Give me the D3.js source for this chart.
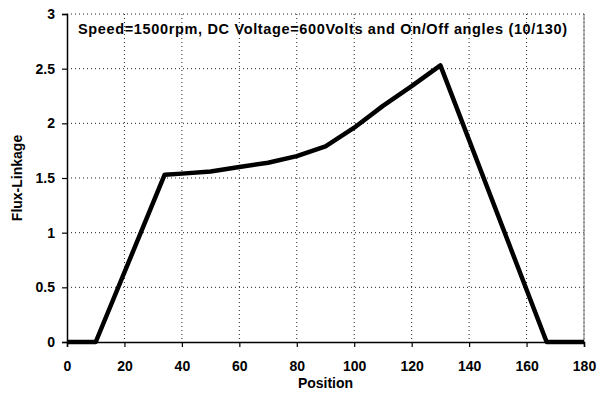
<!DOCTYPE html>
<html>
<head>
<meta charset="utf-8">
<script src="https://cdn.jsdelivr.net/npm/d3@7"></script>
<style>
  body { margin: 0; background: #fff; }
  svg { display: block; font-family: "Liberation Sans", Arial, sans-serif; }
</style>
</head>
<body>
<svg id="chart" width="607" height="399"></svg>
<script>
// values
const positions = [0, 10, 34, 40, 50, 60, 70, 80, 90, 100, 110, 120, 130, 167, 180];
const flux = [0, 0, 1.53, 1.54, 1.56, 1.60, 1.64, 1.70, 1.79, 1.96, 2.16, 2.34, 2.53, 0, 0];

const xTicks = [0, 20, 40, 60, 80, 100, 120, 140, 160, 180];
const yTicks = [0, 0.5, 1, 1.5, 2, 2.5, 3];

const title = "Speed=1500rpm, DC Voltage=600Volts and On/Off angles (10/130)";

let svg = d3.select("#chart");

let dimensions = {
    width: 607,
    height: 399,
    margins: { top: 14, right: 23, bottom: 57, left: 67 },
};
dimensions.boundedWidth = dimensions.width - dimensions.margins.left - dimensions.margins.right;
dimensions.boundedHeight = dimensions.height - dimensions.margins.top - dimensions.margins.bottom;

const boundingBox = svg.append("g")
    .attr("transform", `translate(${dimensions.margins.left},${dimensions.margins.top})`);

const xScale = d3.scaleLinear().domain([0, 180]).range([0, dimensions.boundedWidth]);
const yScale = d3.scaleLinear().domain([0, 3]).range([dimensions.boundedHeight, 0]);

// dotted grid lines
boundingBox.append("g")
    .selectAll("line")
    .data(xTicks.slice(1))
    .join("line")
    .attr("x1", d => xScale(d)).attr("x2", d => xScale(d))
    .attr("y1", 0).attr("y2", dimensions.boundedHeight)
    .attr("stroke", "#222").attr("stroke-width", 1).attr("stroke-dasharray", "1,3");

boundingBox.append("g")
    .selectAll("line")
    .data(yTicks.slice(1))
    .join("line")
    .attr("x1", 0).attr("x2", dimensions.boundedWidth)
    .attr("y1", d => yScale(d)).attr("y2", d => yScale(d))
    .attr("stroke", "#222").attr("stroke-width", 1).attr("stroke-dasharray", "1,3");

// right border of plot area
boundingBox.append("line")
    .attr("x1", dimensions.boundedWidth).attr("x2", dimensions.boundedWidth)
    .attr("y1", 0).attr("y2", dimensions.boundedHeight)
    .attr("stroke", "#777").attr("stroke-width", 1);

// axes
const yAxis = boundingBox.append("g")
    .call(d3.axisLeft(yScale).tickValues(yTicks).tickSize(5).tickPadding(7).tickFormat(d3.format("")));
const xAxis = boundingBox.append("g")
    .attr("transform", `translate(0,${dimensions.boundedHeight})`)
    .call(d3.axisBottom(xScale).tickValues(xTicks).tickSize(5).tickPadding(14));

[xAxis, yAxis].forEach(ax => {
    ax.select(".domain").attr("stroke", "#000").attr("stroke-width", 1.5);
    ax.selectAll(".tick line").attr("stroke", "#000").attr("stroke-width", 1.2);
    ax.selectAll(".tick text")
        .attr("fill", "#000")
        .style("font-size", "14px")
        .style("font-weight", "bold");
});

// the flux-linkage curve
const line = d3.line()
    .x((d, i) => xScale(positions[i]))
    .y(d => yScale(d));

boundingBox.append("path")
    .attr("d", line(flux))
    .attr("fill", "none")
    .attr("stroke", "#000")
    .attr("stroke-width", 4.5)
    .attr("stroke-linejoin", "round");

// texts
boundingBox.append("text")
    .attr("x", 11).attr("y", 20)
    .attr("textLength", 489)
    .attr("lengthAdjust", "spacing")
    .style("font-size", "14.5px").style("font-weight", "bold")
    .text(title);

svg.append("text")
    .attr("x", dimensions.margins.left + dimensions.boundedWidth / 2)
    .attr("y", 388)
    .attr("text-anchor", "middle")
    .style("font-size", "14px").style("font-weight", "bold")
    .text("Position");

svg.append("text")
    .attr("transform", `translate(22,${dimensions.margins.top + dimensions.boundedHeight / 2}) rotate(-90)`)
    .attr("text-anchor", "middle")
    .style("font-size", "14px").style("font-weight", "bold")
    .text("Flux-Linkage");
</script>
</body>
</html>
